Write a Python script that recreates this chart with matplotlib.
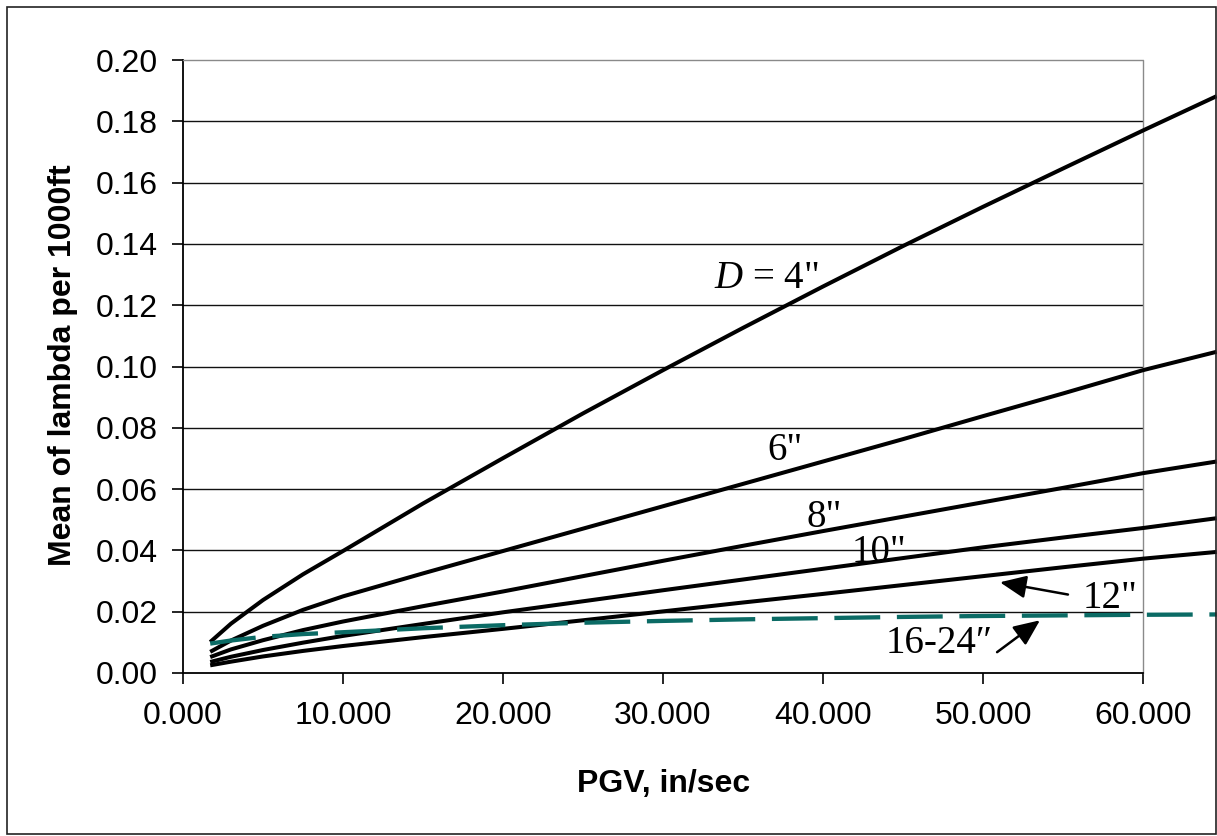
import matplotlib
matplotlib.use("Agg")
import matplotlib.pyplot as plt
from matplotlib.patches import Rectangle
from matplotlib.ticker import FormatStrFormatter

plt.rcParams['font.family'] = ['Liberation Sans', 'DejaVu Sans']
plt.rcParams['mathtext.fontset'] = 'custom'
plt.rcParams['mathtext.it'] = 'Liberation Serif:italic'
plt.rcParams['mathtext.rm'] = 'Liberation Serif'
plt.rcParams['lines.scale_dashes'] = False

# ---- data ----
pgv = [1.7, 3, 5, 7.5, 10, 15, 20, 25, 30, 35, 40, 45, 50, 55, 60, 64.6]
lam_d4 = [0.0101, 0.0161, 0.0238, 0.0322, 0.0398, 0.0553, 0.0701, 0.0847, 0.0988,
          0.1126, 0.1261, 0.1393, 0.1521, 0.1646, 0.1770, 0.1882]
lam_d6 = [0.0069, 0.0106, 0.0154, 0.0206, 0.0250, 0.0325, 0.0398, 0.0471, 0.0544,
          0.0617, 0.0690, 0.0763, 0.0838, 0.0912, 0.0988, 0.1048]
lam_d8 = [0.0052, 0.0077, 0.0107, 0.0140, 0.0168, 0.0218, 0.0266, 0.0316, 0.0366,
          0.0415, 0.0463, 0.0510, 0.0557, 0.0604, 0.0652, 0.0690]
lam_d10 = [0.0036, 0.0053, 0.0075, 0.0099, 0.0121, 0.0160, 0.0198, 0.0234, 0.0270,
           0.0305, 0.0340, 0.0375, 0.0410, 0.0442, 0.0473, 0.0505]
lam_d12 = [0.0025, 0.0037, 0.0054, 0.0072, 0.0088, 0.0117, 0.0144, 0.0172, 0.0201,
           0.0230, 0.0258, 0.0287, 0.0316, 0.0345, 0.0373, 0.0395]
lam_d16_24 = [0.0096, 0.0106, 0.0118, 0.0127, 0.0133, 0.0146, 0.0156, 0.0164, 0.0170,
              0.0175, 0.0179, 0.0183, 0.0186, 0.0188, 0.0190, 0.0191]

x_ticks = [0, 10, 20, 30, 40, 50, 60]
y_ticks = [0.00, 0.02, 0.04, 0.06, 0.08, 0.10, 0.12, 0.14, 0.16, 0.18, 0.20]

labels = ['$D$ = 4"', '6"', '8"', '10"', '12"', '16-24\u2033']
label_pos = [(36.44, 0.1256), (37.6, 0.0694), (40.06, 0.0476), (43.5, 0.0361),
             (57.94, 0.0211), (47.25, 0.0064)]
arrow_12 = ((55.31, 0.0256), (51.06, 0.0296))     # (tail, head)
arrow_16 = ((50.88, 0.0068), (53.56, 0.0172))

# ---- figure ----
W, H = 1217, 836
fig = plt.figure(figsize=(W / 100, H / 100), dpi=100)
ax = fig.add_axes([183 / W, 1 - 673 / H, (1143 - 183) / W, (673 - 60) / H])

ax.set_xlim(0, 60)
ax.set_ylim(0, 0.20)
ax.set_xticks(x_ticks)
ax.set_yticks(y_ticks)
ax.xaxis.set_major_formatter(FormatStrFormatter('%.3f'))
ax.yaxis.set_major_formatter(FormatStrFormatter('%.2f'))

for yv in y_ticks[1:-1]:
    ax.axhline(yv, color='#111111', lw=1.0, zorder=1)

for ys in (lam_d4, lam_d6, lam_d8, lam_d10, lam_d12):
    ax.plot(pgv, ys, color='black', lw=2.9, clip_on=False, zorder=3,
            solid_capstyle='butt', solid_joinstyle='round')
ax.plot(pgv, lam_d16_24, color='#0b6b65', lw=3.1, clip_on=False, zorder=4,
        dashes=(33, 12), dash_capstyle='butt')

for sp in ('top', 'right'):
    ax.spines[sp].set_color('#8a8a8a')
    ax.spines[sp].set_linestyle((0, (1, 1)))
    ax.spines[sp].set_linewidth(1.0)
for sp in ('left', 'bottom'):
    ax.spines[sp].set_color('black')
    ax.spines[sp].set_linewidth(1.3)

ax.tick_params(axis='both', direction='out', length=8, width=1.2,
               labelsize=23, colors='black')
ax.tick_params(axis='y', pad=10)
ax.tick_params(axis='x', pad=12)
ax.tick_params(top=False, right=False)

for txt, (tx, ty) in zip(labels, label_pos):
    ax.text(tx, ty, txt, ha='center', va='baseline', fontsize=28,
            family=['Liberation Serif', 'DejaVu Serif'], zorder=5)

for tail, head in (arrow_12, arrow_16):
    ax.annotate('', xy=head, xytext=tail,
                arrowprops=dict(arrowstyle='-|>,head_length=0.8,head_width=0.35',
                                color='black', lw=1.8, mutation_scale=20,
                                shrinkA=0, shrinkB=0),
                annotation_clip=False, zorder=5)

fig.text(664 / W, 1 - 792 / H, 'PGV, in/sec', ha='center', va='baseline',
         fontsize=23, fontweight='bold')
fig.text(71.5 / W, 1 - 365 / H, 'Mean of lambda per 1000ft', ha='center',
         va='baseline', rotation=90, rotation_mode='anchor',
         fontsize=23, fontweight='bold')

fig.patches.append(Rectangle((6.5 / W, (H - 834) / H), 1209 / W, 827 / H,
                             transform=fig.transFigure, fill=False,
                             edgecolor='#222222', lw=1.2))

fig.savefig('out.png', dpi=100)
